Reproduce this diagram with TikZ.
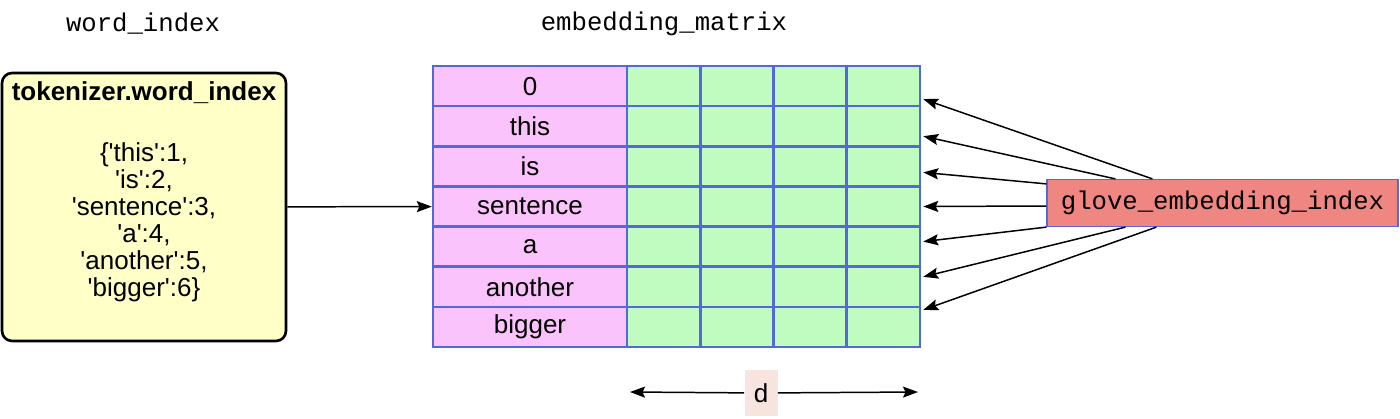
\documentclass[tikz,border=0pt]{standalone}
\usepackage{fontspec}
\setmainfont{Liberation Sans}
\newfontfamily\codefont{Liberation Mono}
\usepackage{tikz}
\usetikzlibrary{positioning,calc,arrows.meta}
\definecolor{CellPink}{RGB}{251,195,251}
\definecolor{CellGreen}{RGB}{192,252,192}
\definecolor{GridBlue}{RGB}{84,104,216}
\definecolor{NoteYellow}{RGB}{255,255,200}
\definecolor{GloveRed}{RGB}{240,134,130}
\definecolor{DimPink}{RGB}{248,228,222}
\newcommand{\squote}{\textquotesingle}

\begin{document}
\begin{tikzpicture}[x=0.02cm, y=-0.02cm,
                % Style cho các ô của ma trận
                wordcell/.style={rectangle, draw=GridBlue, line width=1.4pt, fill=CellPink, minimum width=3.88cm, minimum height=0.803cm, inner sep=0pt, font=\fontsize{14.8}{16}\selectfont},
                vcell/.style={rectangle, draw=GridBlue, line width=1.4pt, fill=CellGreen, minimum width=1.465cm, minimum height=0.803cm, inner sep=0pt},
                % Style cho các hộp
                dictbox/.style={rectangle, rounded corners=0.2cm, draw=black, line width=1.5pt, fill=NoteYellow, minimum width=5.68cm, minimum height=5.36cm},
                glovebox/.style={rectangle, draw=GridBlue, line width=0.7pt, fill=GloveRed, minimum width=7.02cm, minimum height=0.94cm, inner sep=0pt, font=\codefont\fontsize{14.6}{16}\selectfont},
                dimbox/.style={rectangle, fill=DimPink, minimum width=0.66cm, minimum height=0.94cm, inner sep=0pt, font=\fontsize{14.8}{16}\selectfont},
                % Style nhãn
                codelabel/.style={font=\codefont\fontsize{14.6}{16}\selectfont},
                % Style mũi tên
                arrowedge/.style={-{Stealth[length=0.3cm, width=0.22cm, inset=0.05cm]}, line width=0.85pt}
            ]
                \useasboundingbox (0,0) rectangle (1400,419);

                % --- NHÃN TRÊN ---
                \node[codelabel] (wordlabel) at (143,24) {word\_index};
                \node[codelabel] (matlabel) at (664,24) {embedding\_matrix};

                % --- HỘP WORD INDEX ---
                \node[dictbox] (dict) at (144,207) {};
                \node[font=\bfseries\fontsize{14.8}{16}\selectfont] (dicttitle) at (144,93) {tokenizer.word\_index};
                \node[align=center, font=\fontsize{14.8}{15.4}\selectfont] (dictbody) at (144,222)
                    {\{\squote this\squote :1,\\ \squote is\squote :2,\\ \squote sentence\squote :3,\\ \squote a\squote :4,\\ \squote another\squote :5,\\ \squote bigger\squote :6\}};

                % --- MA TRẬN ---
                \node[wordcell] (w0) at (530,86.1) {0};
                \node[wordcell] (w1) at (530,126.2) {this};
                \node[wordcell] (w2) at (530,166.4) {is};
                \node[wordcell] (w3) at (530,206.5) {sentence};
                \node[wordcell] (w4) at (530,246.6) {a};
                \node[wordcell] (w5) at (530,286.8) {another};
                \node[wordcell] (w6) at (530,326.9) {bigger};

                \foreach \r/\y in {0/86.1, 1/126.2, 2/166.4, 3/206.5, 4/246.6, 5/286.8, 6/326.9}
                    \foreach \c/\x in {1/663.6, 2/736.9, 3/810.1, 4/883.4}
                        \node[vcell] (c\r\c) at (\x,\y) {};

                % --- HỘP GLOVE ---
                \node[glovebox] (glove) at (1222.5,203) {glove\_embedding\_index};

                % --- MŨI TÊN ---
                \draw[arrowedge] (dict) -- (w3);

                \draw[arrowedge] ($(glove.north west)+(106,0)$) -- ($(c04.east)+(2,13)$);
                \draw[arrowedge] ($(glove.north west)+(69,0)$) -- ($(c14.east)+(2,10)$);
                \draw[arrowedge] ($(glove.north west)+(0,5)$) -- ($(c24.east)+(2,6)$);
                \draw[arrowedge] ($(glove.west)+(0,3)$) -- ($(c34.east)+(2,0)$);
                \draw[arrowedge] (glove.south west) -- ($(c44.east)+(2,-5)$);
                \draw[arrowedge] ($(glove.south west)+(79,0)$) -- ($(c54.east)+(2,-10)$);
                \draw[arrowedge] ($(glove.south west)+(110,0)$) -- ($(c64.east)+(2,-17)$);

                % --- KÍCH THƯỚC d ---
                \coordinate (dimleft) at (630,392);
                \coordinate (dimright) at (918,392);
                \node[dimbox] (dim) at (761,393) {d};
                \draw[arrowedge] (dim) -- (dimleft);
                \draw[arrowedge] (dim) -- (dimright);

            \end{tikzpicture}
\end{document}
